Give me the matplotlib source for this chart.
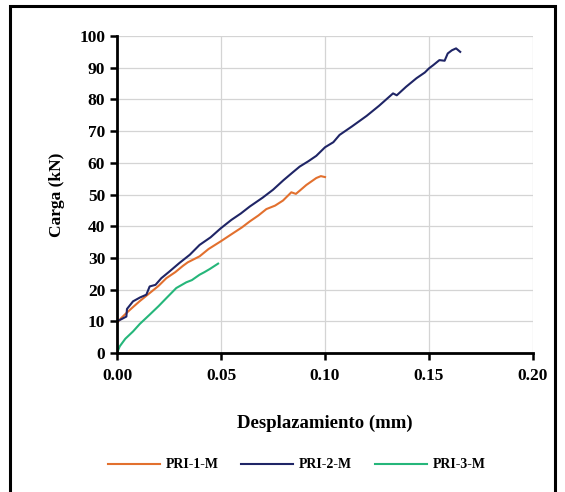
import matplotlib
matplotlib.use("Agg")
import matplotlib.pyplot as plt
from matplotlib.patches import Rectangle

# PRI-1-M (orange)
x1 = [0.0, 0.002, 0.0045, 0.0077, 0.011, 0.0157, 0.020, 0.0237, 0.028, 0.0317, 0.034, 0.0397,
      0.044, 0.0498, 0.0558, 0.060, 0.0638, 0.068, 0.0718, 0.076, 0.0798, 0.0838, 0.086,
      0.088, 0.091, 0.0958, 0.098, 0.100]
y1 = [9.5, 11.0, 12.6, 14.5, 16.4, 18.9, 21.2, 23.6, 25.5, 27.5, 28.6, 30.5,
      32.8, 35.2, 37.8, 39.6, 41.5, 43.4, 45.4, 46.5, 48.1, 50.7, 50.2,
      51.3, 53.0, 55.2, 55.8, 55.5]

# PRI-2-M (navy)
x2 = [0.0, 0.0025, 0.0045, 0.0048, 0.0077, 0.011, 0.0141, 0.0157, 0.0185, 0.0213, 0.025,
      0.030, 0.035, 0.0397, 0.045, 0.0498, 0.055, 0.0595, 0.0638, 0.070, 0.075, 0.080,
      0.0845, 0.0878, 0.092, 0.0958, 0.100, 0.104, 0.107, 0.113, 0.120, 0.126, 0.1327,
      0.1345, 0.139, 0.144, 0.148, 0.150, 0.152, 0.155, 0.1575, 0.159, 0.161, 0.163, 0.165]
y2 = [10.0, 10.8, 11.5, 13.9, 16.3, 17.5, 18.4, 21.0, 21.5, 23.6, 25.6,
      28.4, 31.0, 34.1, 36.5, 39.3, 42.0, 44.0, 46.2, 49.0, 51.5, 54.5,
      57.0, 58.8, 60.5, 62.2, 64.9, 66.5, 68.8, 71.5, 74.8, 78.0, 81.9,
      81.3, 84.0, 86.7, 88.5, 89.8, 90.8, 92.4, 92.2, 94.5, 95.5, 96.1, 95.0]

# PRI-3-M (green)
x3 = [0.0, 0.0013, 0.004, 0.0077, 0.011, 0.0157, 0.020, 0.0237, 0.0285, 0.0333, 0.036,
      0.0397, 0.042, 0.0446, 0.0486]
y3 = [0.0, 2.1, 4.5, 6.8, 9.2, 12.1, 14.8, 17.3, 20.5, 22.3, 23.0,
      24.7, 25.5, 26.5, 28.2]

labels = ["PRI-1-M", "PRI-2-M", "PRI-3-M"]
colors = ["#E2702E", "#1F2566", "#25B67A"]

xticks = [0.00, 0.05, 0.10, 0.15, 0.20]
yticks = list(range(0, 101, 10))

plt.rcParams["font.family"] = ["Liberation Serif", "DejaVu Serif"]
plt.rcParams["font.weight"] = "bold"

fig = plt.figure(figsize=(5.65, 4.92), dpi=100)
fig.patch.set_facecolor("white")
ax = fig.add_axes([0.2071, 0.2825, 0.7363, 0.6443])

for xs, ys, lab, c in zip([x1, x2, x3], [y1, y2, y3], labels, colors):
    ax.plot(xs, ys, color=c, lw=1.5, label=lab)

ax.set_xlim(0, 0.20)
ax.set_ylim(0, 100)
ax.set_xticks(xticks)
ax.set_xticklabels([f"{v:.2f}" for v in xticks])
ax.set_yticks(yticks)
ax.grid(True, color="#d4d4d4", lw=0.9)
ax.set_axisbelow(True)
for s in ["top", "right"]:
    ax.spines[s].set_visible(False)
for s in ["left", "bottom"]:
    ax.spines[s].set_linewidth(2.0)
    ax.spines[s].set_color("black")
ax.tick_params(axis="both", direction="out", length=5, width=1.8, labelsize=12.5)
ax.tick_params(axis="x", pad=6)
for lab in ax.get_xticklabels() + ax.get_yticklabels():
    lab.set_fontweight("bold")

ax.set_xlabel("Desplazamiento (mm)", fontsize=13.5, fontweight="bold", labelpad=22)
ax.set_ylabel("Carga (kN)", fontsize=12.5, fontweight="bold", labelpad=10)

leg = fig.legend(loc="center", bbox_to_anchor=(0.525, 0.055), ncol=3, frameon=False,
                 prop={"size": 10, "weight": "bold"}, handlelength=3.75, columnspacing=1.65,
                 handletextpad=0.4)

# outer frame
fig.patches.append(Rectangle((10 / 565, -0.02), 545 / 565, 1 - 6 / 492 + 0.02,
                             transform=fig.transFigure, fill=False, ec="black", lw=2.2))

fig.savefig("out.png", dpi=100)
